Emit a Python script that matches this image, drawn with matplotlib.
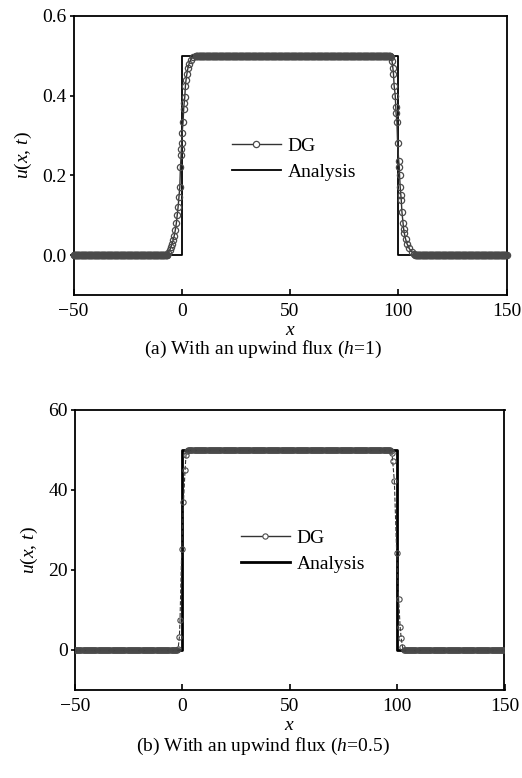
import numpy as np
import matplotlib
matplotlib.use("Agg")
import matplotlib.pyplot as plt
from matplotlib.lines import Line2D

plt.rcParams['font.family'] = ['Liberation Serif', 'DejaVu Serif']
plt.rcParams['mathtext.fontset'] = 'custom'
plt.rcParams['mathtext.it'] = 'Liberation Serif:italic'
plt.rcParams['mathtext.rm'] = 'Liberation Serif'

# ---------------- data ----------------
# analytical solution corners
ana_x = [-50, 0, 0, 100, 100, 150]
ana_u_a = [0, 0, 0.5, 0.5, 0, 0]
ana_u_b = [0, 0, 50, 50, 0, 0]

# panel (a): DG, h=1  (plateaus + read transition points)
a_low_level = 0.0
a_high_level = 0.5
a_left_x = [-6.5, -5.5, -5.0, -4.5, -4.0, -3.5, -3.0, -2.5, -2.1, -1.7, -1.3, -0.9,
            -0.6, -0.3, -0.15, 0.0, 0.15, 0.6, 0.9, 1.1, 1.4, 1.7, 2.0, 2.4, 2.9,
            3.4, 4.2, 5.2, 6.5]
a_left_u = [0.005, 0.012, 0.02, 0.028, 0.037, 0.048, 0.062, 0.08, 0.10, 0.12, 0.145, 0.17,
            0.22, 0.25, 0.265, 0.28, 0.305, 0.333, 0.367, 0.38, 0.396, 0.425, 0.44, 0.455, 0.47,
            0.48, 0.49, 0.496, 0.499]
a_right_x = [96.5, 97.1, 97.5, 97.8, 98.1, 98.6, 98.9, 99.0, 99.4, 99.7, 100.2, 100.5,
             100.6, 100.9, 101.2, 101.4, 101.7, 102.2, 102.5, 102.8, 103.4, 104.0, 105.0,
             106.3, 107.5]
a_right_u = [0.497, 0.4875, 0.47, 0.454, 0.425, 0.4, 0.37, 0.355, 0.333, 0.28, 0.237, 0.22,
             0.2, 0.17, 0.15, 0.137, 0.108, 0.08, 0.065, 0.055, 0.04, 0.029, 0.017,
             0.008, 0.003]

# panel (b): DG, h=0.5
b_low_level = 0.0
b_high_level = 50.0
b_left_x = [-2.0, -1.4, -1.1, -0.3, 0.5, 1.25, 1.7, 2.2]
b_left_u = [0.3, 3.2, 7.5, 25.2, 37.0, 45.0, 48.8, 49.8]
b_right_x = [97.2, 97.6, 97.9, 98.7, 99.8, 100.7, 101.4, 101.9, 102.5]
b_right_u = [49.8, 49.3, 47.3, 42.3, 24.2, 12.7, 5.8, 2.9, 0.8]


def build(low, high, lx, lu, rx, ru, step):
    x1 = np.arange(-50, lx[0], step)
    x2 = np.arange(lx[-1] + step, rx[0], step)
    x3 = np.arange(rx[-1] + step, 150 + 1e-9, step)
    x = np.concatenate([x1, lx, x2, rx, x3])
    u = np.concatenate([np.full(len(x1), low), lu, np.full(len(x2), high), ru,
                        np.full(len(x3), low)])
    return x, u


W, H = 522, 778
fig = plt.figure(figsize=(W / 100, H / 100), dpi=100)

FS = 14
grey = '#4a4a4a'


def style(ax):
    for s in ['top', 'right', 'left', 'bottom']:
        ax.spines[s].set_linewidth(1.3)
    ax.tick_params(axis='y', direction='out', length=3, width=1.2, labelsize=FS, pad=2)
    ax.tick_params(axis='x', direction='in', length=4, width=1.2, labelsize=FS, pad=6)
    ax.set_xlim(-50, 150)
    ax.set_xticks([-50, 0, 50, 100, 150])


# ---- panel a ----
ax1 = fig.add_axes([73.5 / W, 1 - 295 / H, 433 / W, 279.3 / H])
xa, ua = build(a_low_level, a_high_level, a_left_x, a_left_u, a_right_x, a_right_u, 0.25)
ax1.plot(ana_x, ana_u_a, color='black', lw=1.3, zorder=2)
ax1.plot(xa, ua, color='#333333', lw=1.0, marker='o', ms=4.5, mfc='none',
         mec=grey, mew=0.9, zorder=3, clip_on=False)
ax1.set_ylim(-0.1, 0.6)
ax1.set_yticks([0.0, 0.2, 0.4, 0.6])
ax1.set_yticklabels(['0.0', '0.2', '0.4', '0.6'])
style(ax1)
ax1.set_ylabel(r'$u$($x$, $t$)', fontsize=FS, labelpad=6)
ax1.set_xlabel(r'$x$', fontsize=FS, labelpad=1)
hdg = Line2D([], [], color='#333333', lw=1.0, marker='o', ms=4.5, mfc='white',
             mec=grey, mew=0.9)
han = Line2D([], [], color='black', lw=1.3)
ax1.legend([hdg, han], ['DG', 'Analysis'], loc='upper left', frameon=False, fontsize=FS,
           bbox_to_anchor=(232 / W, 1 - 137 / H), bbox_transform=fig.transFigure,
           borderpad=0, borderaxespad=0, handlelength=2.5, handletextpad=0.35,
           labelspacing=0.45)
fig.text(263 / W, 1 - 349 / H, r'(a) With an upwind flux ($h$=1)', fontsize=FS,
         ha='center', va='center')

# ---- panel b ----
ax2 = fig.add_axes([75 / W, 1 - 690 / H, 429.5 / W, 280 / H])
xb, ub = build(b_low_level, b_high_level, b_left_x, b_left_u, b_right_x, b_right_u, 0.5)
ax2.plot(ana_x, ana_u_b, color='black', lw=2.0, zorder=2)
ax2.plot(xb, ub, color='#333333', lw=0.8, ls='--', marker='o', ms=3.8, mfc='none',
         mec=grey, mew=0.8, zorder=3)
ax2.set_ylim(-10, 60)
ax2.set_yticks([0, 20, 40, 60])
style(ax2)
ax2.set_ylabel(r'$u$($x$, $t$)', fontsize=FS, labelpad=6)
ax2.set_xlabel(r'$x$', fontsize=FS, labelpad=1)
hdg2 = Line2D([], [], color='#333333', lw=1.0, marker='o', ms=3.8, mfc='white',
              mec=grey, mew=0.8)
han2 = Line2D([], [], color='black', lw=2.0)
ax2.legend([hdg2, han2], ['DG', 'Analysis'], loc='upper left', frameon=False, fontsize=FS,
           bbox_to_anchor=(241 / W, 1 - 529 / H), bbox_transform=fig.transFigure,
           borderpad=0, borderaxespad=0, handlelength=2.5, handletextpad=0.35,
           labelspacing=0.45)
fig.text(263 / W, 1 - 746 / H, r'(b) With an upwind flux ($h$=0.5)', fontsize=FS,
         ha='center', va='center')

fig.savefig('out.png', dpi=100)
